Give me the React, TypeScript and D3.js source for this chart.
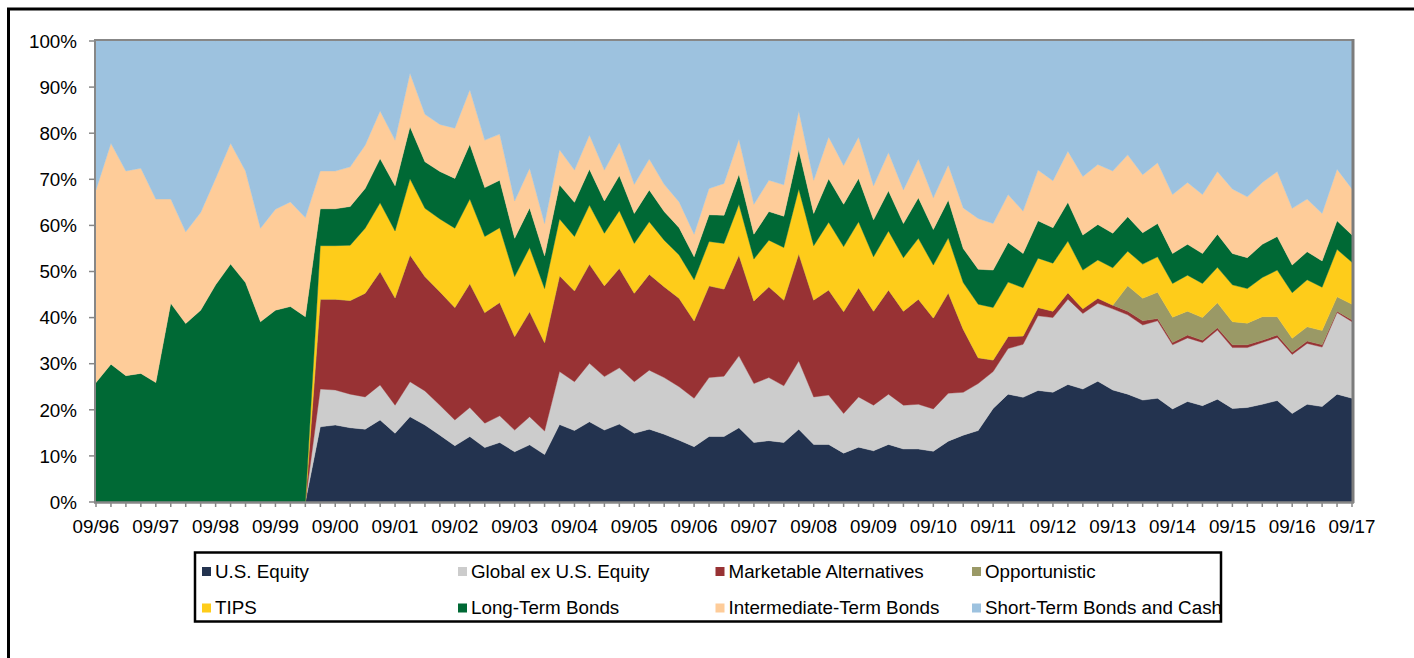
import React, { useEffect, useRef } from "react";
import * as d3 from "d3";

// quarterly asset allocation, 09/96 .. 09/17 (85 quarters), percent of portfolio
const yearLabels = ["09/96", "09/97", "09/98", "09/99", "09/00", "09/01", "09/02", "09/03", "09/04", "09/05", "09/06",
  "09/07", "09/08", "09/09", "09/10", "09/11", "09/12", "09/13", "09/14", "09/15", "09/16", "09/17"];

const usEquity = [0, 0, 0, 0, 0, 0, 0, 0, 0, 0, 0, 0, 0, 0, 0,
  16.3, 16.7, 16.1, 15.8, 17.8, 14.9, 18.5, 16.7, 14.5, 12.2, 14.2, 11.8, 12.9, 10.9, 12.4, 10.3, 16.8, 15.5, 17.4, 15.6,
  16.9, 14.9, 15.8, 14.7, 13.4, 12.0, 14.2, 14.2, 16.1, 12.9, 13.3, 12.9, 15.8, 12.5, 12.5, 10.6, 11.9, 11.1, 12.5, 11.5,
  11.5, 11.0, 13.2, 14.5, 15.5, 20.3, 23.4, 22.7, 24.2, 23.8, 25.5, 24.5, 26.2, 24.3, 23.4, 22.1, 22.5, 20.2, 21.8, 20.9,
  22.3, 20.3, 20.5, 21.2, 22.0, 19.2, 21.2, 20.7, 23.4, 22.5];

const globalExUS = [0, 0, 0, 0, 0, 0, 0, 0, 0, 0, 0, 0, 0, 0, 0,
  8.2, 7.6, 7.3, 7.0, 7.6, 6.1, 7.6, 7.4, 6.5, 5.6, 6.3, 5.3, 5.8, 4.7, 6.1, 5.1, 11.5, 10.6, 12.7, 11.6,
  12.2, 11.2, 12.8, 12.3, 11.6, 10.5, 12.8, 13.1, 15.6, 12.8, 13.7, 12.3, 14.8, 10.3, 10.7, 8.6, 10.9, 9.9, 10.9, 9.5,
  9.7, 9.2, 10.4, 9.3, 10.2, 8.0, 9.9, 11.5, 16.2, 16.2, 18.5, 16.4, 16.9, 17.6, 17.2, 16.3, 16.8, 13.9, 13.8, 13.7,
  15.0, 13.2, 13.0, 13.4, 13.7, 12.8, 13.2, 12.9, 17.7, 16.6];

const marketableAlts = [0, 0, 0, 0, 0, 0, 0, 0, 0, 0, 0, 0, 0, 0, 0,
  19.5, 19.7, 20.3, 22.5, 24.6, 23.3, 27.5, 24.8, 24.6, 24.4, 26.9, 24.0, 24.6, 20.3, 22.8, 19.2, 20.8, 19.7, 21.5, 19.7,
  21.6, 19.2, 20.8, 19.7, 19.2, 16.8, 19.9, 18.9, 21.9, 17.9, 19.7, 18.6, 23.3, 21.0, 22.8, 22.1, 23.7, 20.4, 22.6, 20.4,
  22.8, 19.7, 21.8, 13.7, 5.6, 2.5, 2.6, 1.8, 1.8, 1.4, 1.4, 1.0, 1.1, 0.8, 0.8, 0.9, 0.5, 0.5, 0.6, 0.5,
  0.5, 0.6, 0.6, 0.5, 0.5, 0.5, 0.5, 0.5, 0.3, 0.4];

const opportunistic = [0, 0, 0, 0, 0, 0, 0, 0, 0, 0, 0, 0, 0, 0, 0,
  0, 0, 0, 0, 0, 0, 0, 0, 0, 0, 0, 0, 0, 0, 0, 0, 0, 0, 0, 0,
  0, 0, 0, 0, 0, 0, 0, 0, 0, 0, 0, 0, 0, 0, 0, 0, 0, 0, 0, 0,
  0, 0, 0, 0, 0, 0, 0, 0, 0, 0, 0, 0, 0, 0, 5.5, 4.9, 5.7, 5.5, 5.2, 4.9,
  5.4, 5.0, 4.7, 5.1, 4.0, 3.0, 3.1, 3.1, 3.1, 3.4];

const tips = [0, 0, 0, 0, 0, 0, 0, 0, 0, 0, 0, 0, 0, 0, 0,
  11.6, 11.6, 12.0, 14.1, 14.9, 14.5, 16.5, 14.8, 15.8, 17.2, 18.3, 16.5, 16.2, 13.0, 13.9, 11.7, 12.3, 11.8, 12.8, 11.4,
  12.5, 10.8, 11.4, 10.1, 9.4, 8.9, 9.6, 9.9, 11.0, 9.1, 10.1, 11.4, 14.0, 11.8, 14.7, 14.1, 14.3, 11.8, 12.8, 11.6,
  13.2, 11.5, 11.9, 10.1, 11.6, 11.4, 11.8, 10.5, 10.7, 10.4, 11.2, 8.4, 8.3, 8.1, 7.5, 7.4, 7.7, 7.3, 7.8, 7.4,
  7.7, 8.0, 7.5, 8.5, 10.1, 9.9, 10.2, 9.4, 10.3, 9.1];

const longTermBonds = [25.9, 29.9, 27.4, 27.9, 25.9, 43.1, 38.7, 41.6, 47.1, 51.6, 47.6, 39.1, 41.6, 42.4, 40.2,
  8.0, 8.0, 8.4, 8.6, 9.6, 9.8, 11.3, 10.1, 10.3, 10.8, 11.9, 10.6, 10.3, 8.3, 8.6, 7.1, 7.4, 7.4, 7.8, 7.0,
  7.6, 6.5, 6.9, 6.2, 5.9, 5.0, 5.8, 6.1, 6.5, 5.4, 6.2, 6.8, 8.5, 7.0, 9.4, 9.2, 9.4, 8.0, 8.7, 7.4,
  8.8, 7.7, 8.2, 7.4, 7.6, 8.1, 8.6, 7.4, 8.1, 7.7, 8.4, 7.6, 7.7, 7.5, 7.5, 6.8, 7.2, 6.5, 6.7, 6.5,
  7.2, 6.8, 6.7, 7.2, 7.3, 6.0, 6.1, 5.7, 6.2, 5.9];

const intermediateBonds = [41.8, 47.9, 44.4, 44.5, 39.8, 22.6, 19.9, 21.2, 23.1, 26.2, 24.2, 20.3, 21.9, 22.7, 21.5,
  8.2, 8.2, 8.6, 9.4, 10.3, 9.9, 11.6, 10.3, 10.2, 10.9, 11.8, 10.3, 10.0, 8.1, 8.6, 7.0, 7.6, 7.0, 7.4, 6.7,
  7.2, 6.3, 6.7, 5.9, 5.6, 4.9, 5.7, 6.9, 7.6, 6.5, 6.8, 6.8, 8.4, 7.2, 9.1, 8.4, 9.0, 7.4, 8.3, 7.3,
  8.4, 6.9, 7.6, 8.8, 11.0, 10.1, 10.4, 9.2, 11.0, 10.2, 11.1, 12.7, 13.0, 13.5, 13.4, 12.6, 13.2, 12.8, 13.4, 12.8,
  13.6, 14.0, 13.2, 13.4, 14.1, 12.3, 11.4, 10.3, 11.2, 10.0];

const shortTermCash = [32.3, 22.2, 28.2, 27.6, 34.3, 34.3, 41.4, 37.2, 29.8, 22.2, 28.2, 40.6, 36.5, 34.9, 38.3,
  28.2, 28.2, 27.3, 22.6, 15.2, 21.5, 7.0, 15.9, 18.1, 18.9, 10.6, 21.5, 20.2, 34.7, 27.6, 39.6, 23.6, 28.0, 20.4, 28.0,
  22.0, 31.1, 25.6, 31.1, 34.9, 41.9, 32.0, 30.9, 21.3, 35.4, 30.2, 31.2, 15.2, 30.2, 20.8, 27.0, 20.8, 31.4, 24.2, 32.3,
  25.6, 34.0, 26.9, 36.2, 38.5, 39.6, 33.3, 36.9, 28.0, 30.3, 23.9, 29.4, 26.8, 28.2, 24.7, 29.0, 26.4, 33.3, 30.7, 33.3,
  28.3, 32.1, 33.8, 30.7, 28.3, 36.3, 34.3, 37.4, 27.8, 32.1];

const seriesNames = ["U.S. Equity", "Global ex U.S. Equity", "Marketable Alternatives", "Opportunistic",
  "TIPS", "Long-Term Bonds", "Intermediate-Term Bonds", "Short-Term Bonds and Cash"];
const seriesValues = [usEquity, globalExUS, marketableAlts, opportunistic, tips, longTermBonds, intermediateBonds, shortTermCash];
const seriesColors = ["#23334f", "#cccccc", "#983234", "#9a9966", "#fecc1a", "#006935", "#fecc99", "#9dc2df"];

const yTicks = [0, 0.1, 0.2, 0.3, 0.4, 0.5, 0.6, 0.7, 0.8, 0.9, 1];

const FONT = "'Liberation Sans', Arial, Helvetica, sans-serif";
const FS = 18.8;

export default function App() {
  const ref = useRef<SVGSVGElement>(null);

  useEffect(() => {
    const svg = d3.select(ref.current);
    svg.selectAll("*").remove();

    const left = 96, right = 1352, top = 41, bottom = 502;
    const n = usEquity.length;

    const rows = d3.range(n).map((i) => {
      const r: any = { idx: i };
      seriesNames.forEach((name, k) => { r[name] = seriesValues[k][i]; });
      return r;
    });

    const x = d3.scaleLinear().domain([0, n - 1]).range([left, right]);
    const y = d3.scaleLinear().domain([0, 1]).range([bottom, top]);

    const stack = d3.stack<any>().keys(seriesNames).offset(d3.stackOffsetExpand);
    const layers = stack(rows);

    const area = d3.area<any>()
      .x((d) => x(d.data.idx))
      .y0((d) => y(d[0]))
      .y1((d) => y(d[1]));

    // outer frame
    svg.append("rect")
      .attr("x", 8.5).attr("y", 9).attr("width", 1500).attr("height", 800)
      .attr("fill", "none").attr("stroke", "#000").attr("stroke-width", 3);

    svg.append("g").selectAll("path")
      .data(layers)
      .enter().append("path")
      .attr("d", area as any)
      .attr("fill", (d, i) => seriesColors[i])
      .attr("stroke", (d, i) => seriesColors[i])
      .attr("stroke-width", 0.4);

    // plot frame
    const grey = "#878787";
    svg.append("line").attr("x1", left - 2).attr("x2", right + 1).attr("y1", top - 1).attr("y2", top - 1)
      .attr("stroke", grey).attr("stroke-width", 2);
    svg.append("line").attr("x1", right + 1).attr("x2", right + 1).attr("y1", top - 2).attr("y2", bottom + 1)
      .attr("stroke", "#7c7c7c").attr("stroke-width", 3);
    svg.append("line").attr("x1", left - 1).attr("x2", left - 1).attr("y1", top - 2).attr("y2", bottom + 1)
      .attr("stroke", grey).attr("stroke-width", 2);
    svg.append("line").attr("x1", left - 2).attr("x2", right + 2).attr("y1", bottom + 0.5).attr("y2", bottom + 0.5)
      .attr("stroke", grey).attr("stroke-width", 2.5);

    // y axis ticks + labels
    const yAxis = svg.append("g");
    yAxis.selectAll("line").data(yTicks).enter().append("line")
      .attr("x1", left - 7).attr("x2", left - 1)
      .attr("y1", (d) => y(d)).attr("y2", (d) => y(d))
      .attr("stroke", grey).attr("stroke-width", 1.5);
    yAxis.selectAll("text").data(yTicks).enter().append("text")
      .attr("x", 77).attr("y", (d) => y(d) + 6.7)
      .attr("text-anchor", "end")
      .attr("font-family", FONT).attr("font-size", FS).attr("fill", "#000")
      .text((d) => Math.round(d * 100) + "%");

    // x axis ticks (quarterly) + labels (yearly)
    const xAxis = svg.append("g");
    xAxis.selectAll("line").data(d3.range(n)).enter().append("line")
      .attr("x1", (d) => x(d)).attr("x2", (d) => x(d))
      .attr("y1", bottom + 1).attr("y2", bottom + 5)
      .attr("stroke", grey).attr("stroke-width", 1.5);
    xAxis.selectAll("text").data(yearLabels).enter().append("text")
      .attr("x", (d, i) => x(i * 4)).attr("y", 533)
      .attr("text-anchor", "middle")
      .attr("font-family", FONT).attr("font-size", FS).attr("fill", "#000")
      .text((d) => d);

    // legend
    svg.append("rect")
      .attr("x", 195).attr("y", 552.5).attr("width", 1026).attr("height", 69)
      .attr("fill", "#fff").attr("stroke", "#000").attr("stroke-width", 2.5);
    const colX = [202, 458, 715.5, 972];
    const rowY = [567, 603.5];
    const leg = svg.append("g").selectAll("g")
      .data(seriesNames)
      .enter().append("g")
      .attr("transform", (d, i) => "translate(" + colX[i % 4] + "," + rowY[Math.floor(i / 4)] + ")");
    leg.append("rect")
      .attr("width", 9).attr("height", 9)
      .attr("fill", (d, i) => seriesColors[i]);
    leg.append("text")
      .attr("x", 13).attr("y", 10.5)
      .attr("font-family", FONT).attr("font-size", FS).attr("fill", "#000")
      .text((d) => d);
  }, []);

  return (
    <svg ref={ref} width={1414} height={658}
      style={{ position: "absolute", left: 0, top: 0, display: "block", background: "#fff" }} />
  );
}
